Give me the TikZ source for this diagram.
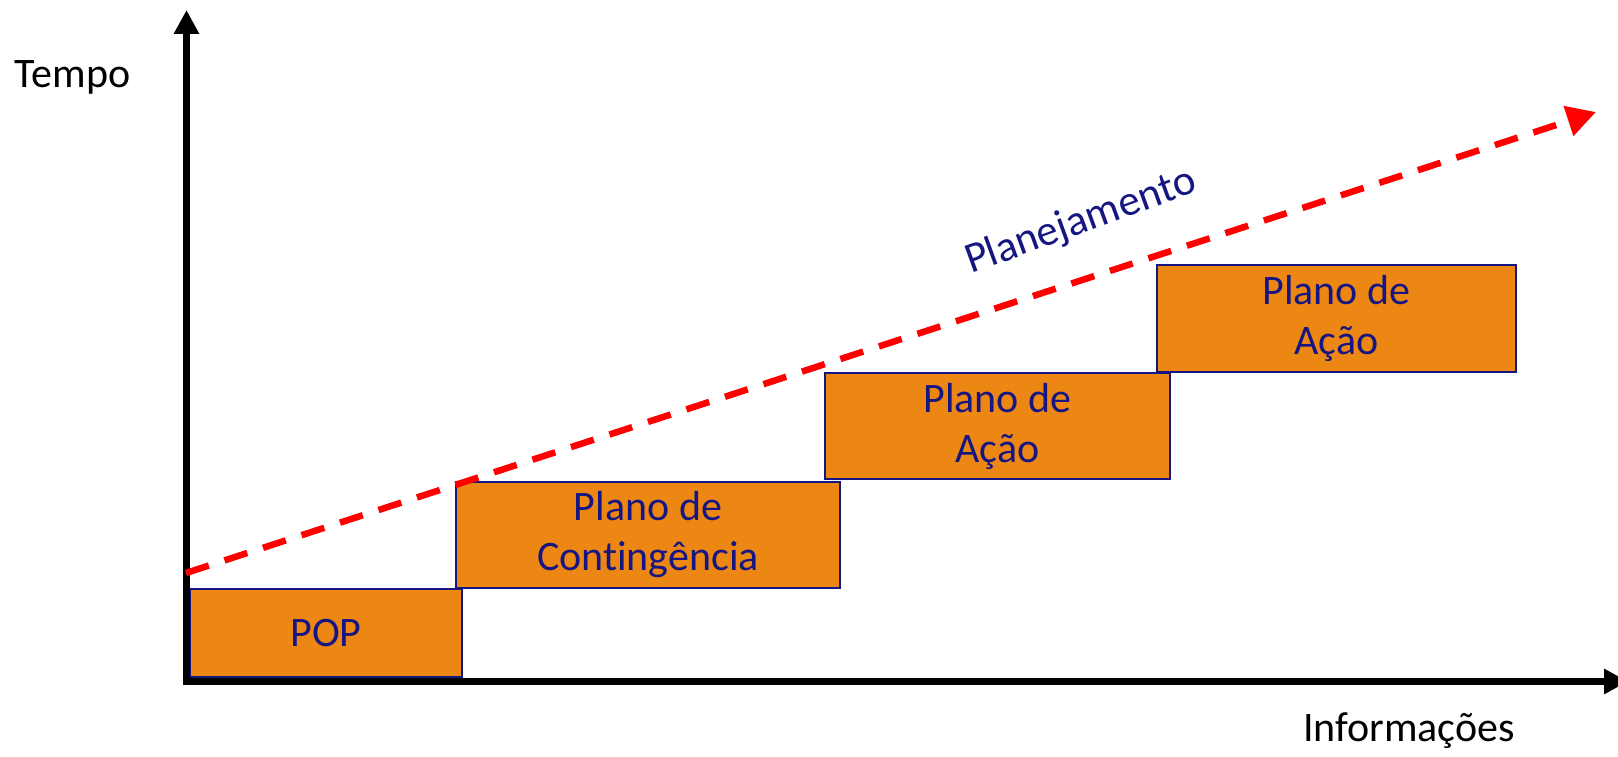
\documentclass[tikz,border=0pt]{standalone}
\usepackage{fontspec}
\setmainfont{Carlito}[Ligatures=NoCommon]
\usetikzlibrary{arrows.meta}
\definecolor{boxorange}{RGB}{237,135,20}
\definecolor{navy}{RGB}{22,22,130}
\definecolor{dashred}{RGB}{255,0,0}
\tikzset{
  axisline/.style={line width=7pt, line join=miter, {Triangle[length=24pt,width=24pt]}-{Triangle[length=24pt,width=24pt]}},
  planbox/.style={draw=navy, line width=2pt, fill=boxorange, text=navy, align=center,
    inner sep=0pt, font=\fontsize{42}{50}\selectfont},
  axislabel/.style={text=black, font=\fontsize{42}{50}\selectfont, anchor=base, inner sep=0pt},
  planline/.style={draw=dashred, line width=6.5pt, dash pattern=on 24pt off 16.5pt,
    -{Triangle[length=29pt,width=30pt]}}
}
\begin{document}
\begin{tikzpicture}[x=1pt,y=-1pt]
\useasboundingbox (0,0) rectangle (1618,757);
\clip (0,0) rectangle (1618,757);
% boxes
\node[planbox, minimum width=272pt, minimum height=88pt] (pop) at (326,633) {POP};
\node[planbox, minimum width=384pt, minimum height=106pt] (cont) at (648,535) {Plano de\\Contingência};
\node[planbox, minimum width=345pt, minimum height=106pt] (acao1) at (997.5,426) {Plano de\\Ação};
\node[planbox, minimum width=359pt, minimum height=107pt] (acao2) at (1336.5,318.5) {Plano de\\Ação};
% axes
\coordinate (o) at (186.5,681.5);
\coordinate (ytip) at (186.5,10);
\coordinate (xtip) at (1628,681.5);
\draw[axisline] (ytip) -- (o) -- (xtip);
% planning line
\coordinate (pstart) at (186,573);
\coordinate (pend) at (1596,112);
\draw[planline] (pstart) -- (pend);
\node[text=navy, font=\fontsize{43}{50}\selectfont, rotate=20, inner sep=0pt] (plan) at (1081,222) {Planejamento};
% axis labels
\node[axislabel] (tempo) at (72.5,88) {Tempo};
\node[axislabel] (info) at (1409,741.5) {Informações};
\end{tikzpicture}
\end{document}
